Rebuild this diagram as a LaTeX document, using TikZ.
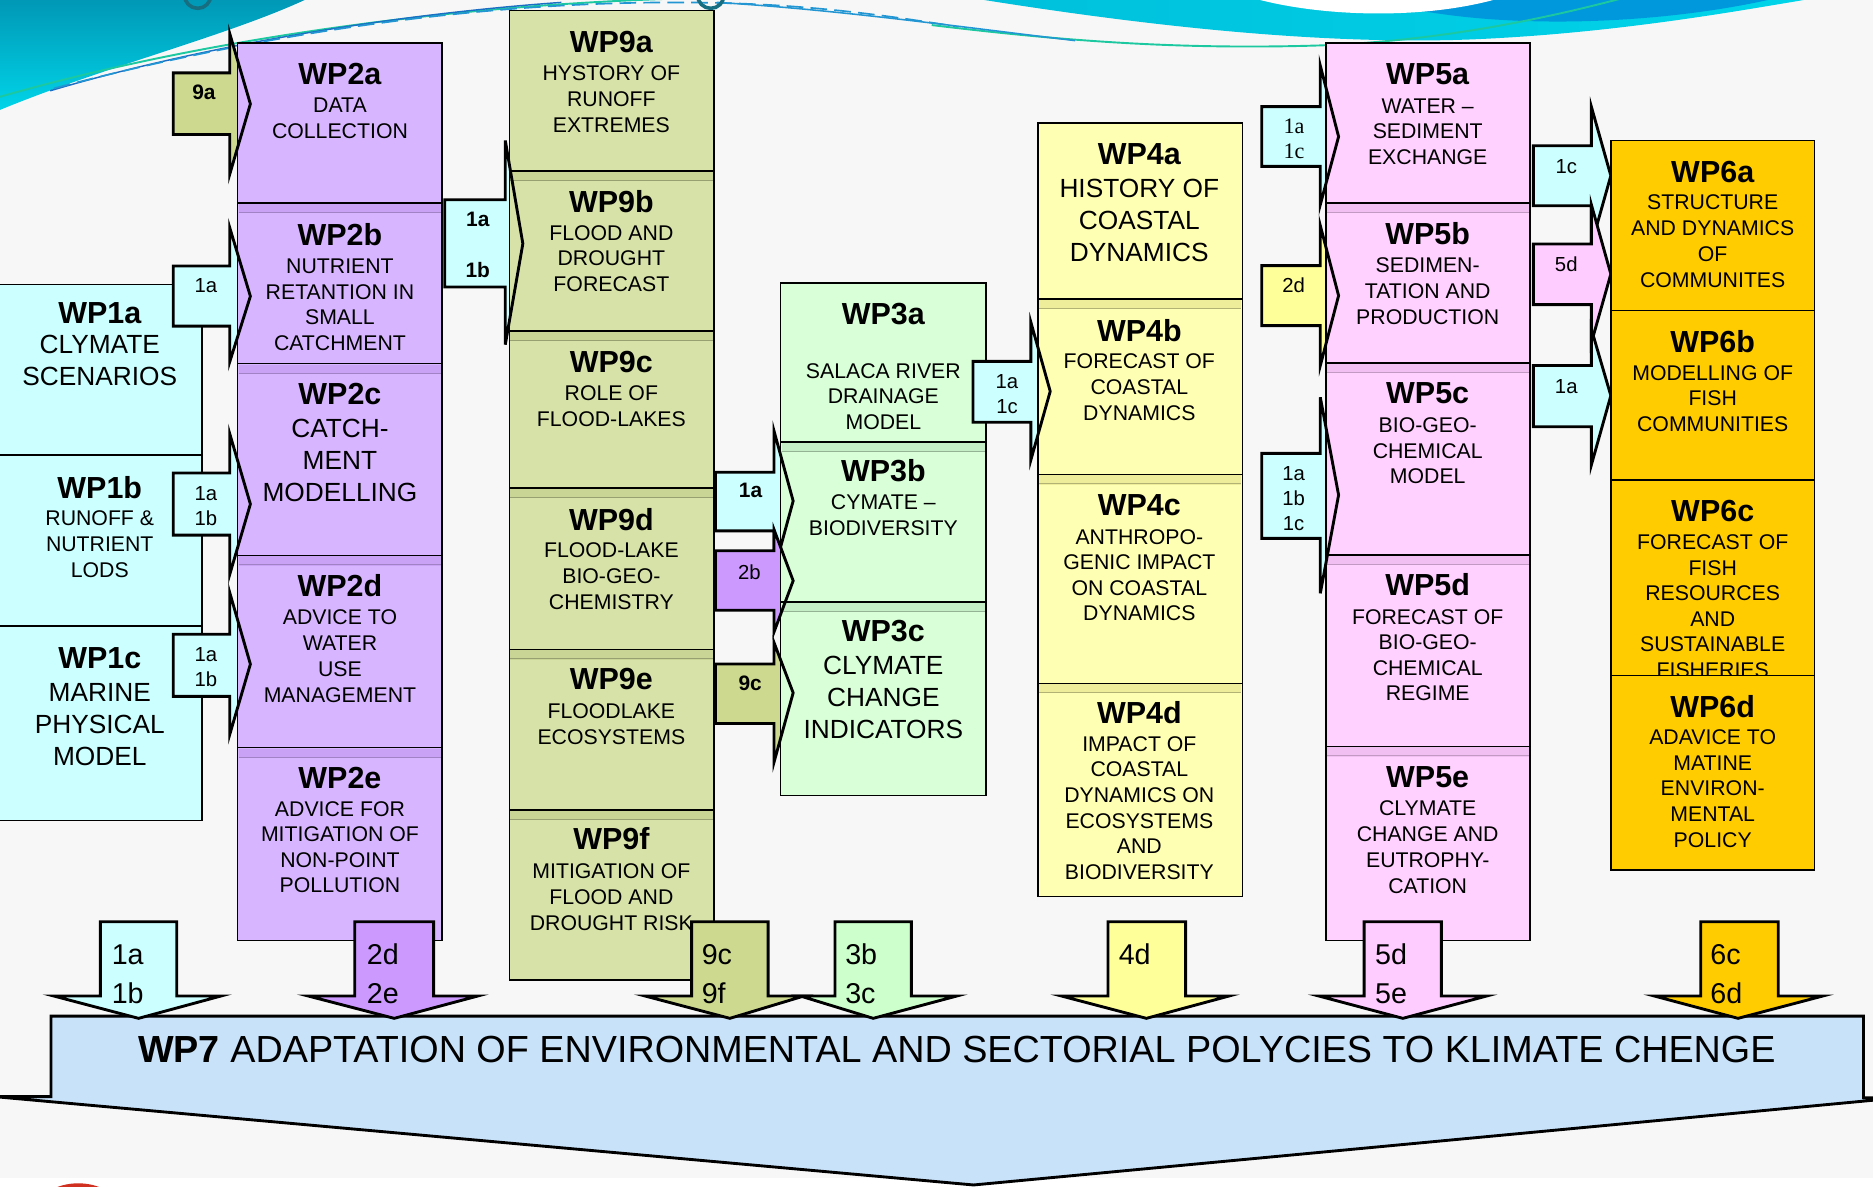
\documentclass[tikz,border=0pt]{standalone}
\usepackage{fontspec}
\setmainfont{Liberation Sans}
\newfontfamily\serifl{Liberation Serif}
\definecolor{bgc}{HTML}{F7F7F7}
\definecolor{cyanB}{HTML}{CCFFFF}
\definecolor{lavB}{HTML}{D8B6FF}
\definecolor{lavS}{HTML}{C9A2F5}
\definecolor{purA}{HTML}{CC99FF}
\definecolor{khB}{HTML}{D7E2A8}
\definecolor{khS}{HTML}{C9D595}
\definecolor{khA}{HTML}{CCD98F}
\definecolor{grB}{HTML}{D9FFD9}
\definecolor{grS}{HTML}{C6EEC6}
\definecolor{grA}{HTML}{CCFFCC}
\definecolor{yeB}{HTML}{FFFFB3}
\definecolor{yeS}{HTML}{EDED9A}
\definecolor{yeA}{HTML}{FFFF99}
\definecolor{piB}{HTML}{FFD1FF}
\definecolor{piS}{HTML}{F2BFF2}
\definecolor{piA}{HTML}{FFCCFF}
\definecolor{goB}{HTML}{FFCC00}
\definecolor{wpsev}{HTML}{C8E2FA}
\definecolor{tealD}{HTML}{0098B6}
\definecolor{tealL}{HTML}{00D4E8}
\definecolor{lineG}{HTML}{1CC8A0}
\definecolor{lineB}{HTML}{1A6FC4}
\definecolor{lineC}{HTML}{2196D3}
\definecolor{ringc}{HTML}{176E80}
\definecolor{waveC}{HTML}{00C0DC}
\definecolor{waveB}{HTML}{0098DC}
\definecolor{redc}{HTML}{D03020}
% box: name, x1, y1, x2, y2, fill
\newcommand\wpbox[6]{\node[wpb, fill=#6, minimum width={#4-(#2)}, minimum height={#5-(#3)}, anchor=north west] (#1) at (#2,#3) {};}
% strip: x1, y, x2, fill, line colour
\newcommand\wpstrip[5]{\fill[#4] ({#1+0.7},{#2+0.7}) rectangle ({#3-0.7},{#2+8.5});
  \draw[#5, line width=0.8pt] ({#1+0.7},{#2+7.8}) -- ({#3-0.7},{#2+7.8});}
% text: name, cx, title y, title, body style, first y, skip, lines
\newcommand\wptxt[8]{\node[ttl] (#1t) at (#2,#3) {#4};
  \foreach \wline [count=\i from 0] in {#8} {\node[#5] (#1l\i) at (#2,{#6+\i*#7}) {\wline};}}
% side arrow: fill, body left, body top, body bottom, head x, head top, head bottom, tip x, tip y
\newcommand\sarr[9]{\draw[sarrow, fill=#1] (#2,#3) -- (#5,#3) -- (#5,#6) -- (#8,#9) -- (#5,#7) -- (#5,#4) -- (#2,#4) -- cycle;}
\newcommand\shead[5]{\draw[sarrow] (#1,#2) -- (#4,#5) -- (#1,#3);}
% down arrow: fill, shaft left, shaft right, head left, head right, tip x
\newcommand\darr[6]{\draw[darrow, fill=#1] (#2,771.6) -- (#3,771.6) -- (#3,833.8) -- (#5,833.8) -- (#6,852.5) -- (#4,833.8) -- (#2,833.8) -- cycle;}
\begin{document}
\begin{tikzpicture}[x=1pt,y=-1pt,line join=miter,
  wpb/.style={draw=black, line width=1.2pt, inner sep=0pt, outer sep=0pt},
  ttl/.style={font=\fontsize{25.5}{30}\selectfont\bfseries, inner sep=0pt},
  bdy/.style={font=\fontsize{17.8}{21}\selectfont, inner sep=0pt},
  bdyL/.style={font=\fontsize{22}{26}\selectfont, inner sep=0pt},
  sarrow/.style={draw=black, line width=2.4pt},
  darrow/.style={draw=black, line width=2.4pt},
  slab/.style={font=\fontsize{17}{20}\selectfont, inner sep=0pt},
  slabB/.style={font=\fontsize{17.5}{20}\selectfont\bfseries, inner sep=0pt},
  slabS/.style={font=\serifl\fontsize{18.5}{20}\selectfont, inner sep=0pt},
  dlab/.style={font=\fontsize{24}{28}\selectfont, inner sep=0pt, anchor=base west}]
\useasboundingbox (0,0) rectangle (1568,993);
\clip (0,0) rectangle (1568,993);
% background
\fill[bgc] (0,0) rectangle (1568,993);
\fill[white] (0,986) rectangle (1568,993);
\fill[redc] (65.5,1041.6) circle (51);
% top decoration
\shade[top color=tealD, bottom color=tealL] (0,0) -- (255,0) .. controls (190,30) and (90,55) .. (0,92) -- cycle;
\shade[left color=waveC, right color=tealL] (824,0) .. controls (950,20) and (1100,38) .. (1232,33) .. controls (1350,28) and (1450,10) .. (1510,0) -- cycle;
\fill[waveB] (1150,0) .. controls (1240,26) and (1380,22) .. (1480,0) -- cycle;
\fill[white] (1055,0) .. controls (1110,14) and (1190,16) .. (1250,0) -- cycle;
\draw[lineG, line width=1.6pt] (0,81) .. controls (150,38) and (350,6) .. (560,-1);
\draw[lineB, line width=1.2pt] (42,76) .. controls (170,38) and (330,12) .. (470,2);
\draw[lineC, line width=1.4pt, dash pattern=on 14pt off 6pt] (45,74) .. controls (220,28) and (420,-4) .. (620,3) .. controls (700,6) and (760,16) .. (800,22);
\draw[lineG, line width=1.6pt] (780,21) .. controls (880,33) and (980,42) .. (1106,38) .. controls (1210,34) and (1300,14) .. (1360,-2);
\draw[lineC, line width=1.3pt] (600,2) .. controls (700,8) and (800,22) .. (900,34);
\draw[ringc, line width=3pt] (165.5,-4) circle (11);
\draw[ringc, line width=3pt] (595,-4) circle (11);
% ---- WP1 column
\wpbox{wp1a}{-5}{238}{169}{381}{cyanB}
\wptxt{wp1a}{83.5}{262}{WP1a}{bdyL}{288.5}{26.5}{CLYMATE,SCENARIOS}
\wpbox{wp1b}{-5}{381}{169}{524}{cyanB}
\wptxt{wp1b}{83.5}{408}{WP1b}{bdy}{433.6}{21.8}{RUNOFF \&,NUTRIENT,LODS}
\wpbox{wp1c}{-5}{524}{169}{687}{cyanB}
\wptxt{wp1c}{83.5}{550.7}{WP1c}{bdyL}{580}{26.5}{MARINE,PHYSICAL,MODEL}
% ---- arrows into WP2, WP9, WP3
\sarr{khA}{145}{61}{112.6}{192.3}{28}{146}{209.6}{87}
\node[slabB] (s9a) at (170.7,77.6) {9a};
\sarr{cyanB}{145}{222.7}{273}{192.3}{190.5}{303}{209.6}{248}
\node[slab] (s2b1) at (172.3,239.5) {1a};
\sarr{cyanB}{145}{396}{448}{192.3}{363}{481}{209.6}{422}
\node[slab] (s2c1) at (172.3,413) {1a};
\node[slab] (s2c2) at (172.3,434) {1b};
\sarr{cyanB}{145}{531}{583}{192.3}{496}{615}{209.6}{556}
\node[slab] (s2d1) at (172.3,548) {1a};
\node[slab] (s2d2) at (172.3,569) {1b};
\sarr{cyanB}{372.3}{167.2}{240.3}{423}{117.6}{288.5}{437.7}{204}
\node[slabB] (s9b1) at (400,183.5) {1a};
\node[slabB] (s9b2) at (400,226.3) {1b};
\sarr{cyanB}{599}{395.3}{444.4}{648}{360.9}{478}{664}{419.4}
\node[slabB] (s3b1) at (628.3,410.7) {1a};
\sarr{purA}{599}{461.1}{510.9}{648}{443.4}{529}{664}{486.2}
\node[slab] (s3b2) at (627.4,478.8) {2b};
\sarr{khA}{599}{555.9}{605.7}{648}{538}{638}{664}{580}
\node[slabB] (s3c1) at (628,572) {9c};
% ---- WP2 column
\wpbox{wp2a}{199}{36}{370}{170}{lavB}
\wptxt{wp2a}{284.6}{61.6}{WP2a}{bdy}{88}{21.8}{DATA,COLLECTION}
\wpbox{wp2b}{199}{170}{370}{304.5}{lavB}
\wpstrip{199}{170}{370}{lavS}{lavS!80!black}
\wptxt{wp2b}{284.6}{196}{WP2b}{bdy}{222.7}{21.5}{NUTRIENT,RETANTION IN,SMALL,CATCHMENT}
\wpbox{wp2c}{199}{304.5}{370}{465}{lavB}
\wpstrip{199}{304.5}{370}{lavS}{lavS!80!black}
\wptxt{wp2c}{284.6}{329.5}{WP2c}{bdyL}{358.8}{26.6}{CATCH-,MENT,MODELLING}
\wpbox{wp2d}{199}{465}{370}{626}{lavB}
\wpstrip{199}{465}{370}{lavS}{lavS!80!black}
\wptxt{wp2d}{284.6}{490.5}{WP2d}{bdy}{517}{21.7}{ADVICE TO,WATER,USE,MANAGEMENT}
\wpbox{wp2e}{199}{626}{370}{787.5}{lavB}
\wpstrip{199}{626}{370}{lavS}{lavS!80!black}
\wptxt{wp2e}{284.6}{651.5}{WP2e}{bdy}{677}{21.4}{ADVICE FOR,MITIGATION OF,NON-POINT,POLLUTION}
% ---- WP9 column
\wpbox{wp9a}{426.4}{9}{597.8}{143}{khB}
\wptxt{wp9a}{511.8}{35}{WP9a}{bdy}{61}{21.8}{HYSTORY OF,RUNOFF,EXTREMES}
\wpbox{wp9b}{426.4}{143}{597.8}{277}{khB}
\wpstrip{426.4}{143}{597.8}{khS}{khS!75!black}
\wptxt{wp9b}{511.8}{169}{WP9b}{bdy}{195}{21.5}{FLOOD AND,DROUGHT,FORECAST}
\wpbox{wp9c}{426.4}{277}{597.8}{408.7}{khB}
\wpstrip{426.4}{277}{597.8}{khS}{khS!75!black}
\wptxt{wp9c}{511.8}{303}{WP9c}{bdy}{329}{21.6}{ROLE OF,FLOOD-LAKES}
\wpbox{wp9d}{426.4}{408.7}{597.8}{543.7}{khB}
\wpstrip{426.4}{408.7}{597.8}{khS}{khS!75!black}
\wptxt{wp9d}{511.8}{434.8}{WP9d}{bdy}{460.5}{22}{FLOOD-LAKE,BIO-GEO-,CHEMISTRY}
\wpbox{wp9e}{426.4}{543.7}{597.8}{678}{khB}
\wpstrip{426.4}{543.7}{597.8}{khS}{khS!75!black}
\wptxt{wp9e}{511.8}{568.8}{WP9e}{bdy}{595}{22}{FLOODLAKE,ECOSYSTEMS}
\wpbox{wp9f}{426.4}{678}{597.8}{820.4}{khB}
\wpstrip{426.4}{678}{597.8}{khS}{khS!75!black}
\wptxt{wp9f}{511.8}{702}{WP9f}{bdy}{729.4}{21.7}{MITIGATION OF,FLOOD AND,DROUGHT RISK}
% ---- WP3 column
\wpbox{wp3a}{653.6}{237}{825.5}{370}{grB}
\wptxt{wp3a}{739.5}{262.6}{WP3a}{bdy}{310.6}{21.4}{SALACA RIVER,DRAINAGE,MODEL}
\wpbox{wp3b}{653.6}{370}{825.5}{504}{grB}
\wpstrip{653.6}{370}{825.5}{grS}{grS!75!black}
\wptxt{wp3b}{739.5}{393.6}{WP3b}{bdy}{420}{21.8}{CYMATE –,BIODIVERSITY}
\wpbox{wp3c}{653.6}{504}{825.5}{666}{grB}
\wpstrip{653.6}{504}{825.5}{grS}{grS!75!black}
\wptxt{wp3c}{739.5}{528.6}{WP3c}{bdyL}{556.9}{26.8}{CLYMATE,CHANGE,INDICATORS}
% ---- arrows into WP4, WP5, WP6
\sarr{cyanB}{814.6}{302.5}{353.5}{863}{269.8}{385}{879.2}{327.6}
\node[slab] (s4b1) at (843,319.8) {1a};
\node[slab] (s4b2) at (843,340.2) {1c};
\sarr{cyanB}{1056.3}{89.3}{139.3}{1105.3}{55}{171.3}{1120.6}{114.4}
\node[slabS] (s5a1) at (1083.3,106) {1a};
\node[slabS] (s5a2) at (1083.3,126.7) {1c};
\sarr{yeA}{1056.3}{222.4}{272.6}{1105.3}{188.9}{306}{1120.6}{247.5}
\node[slab] (s5b1) at (1083,239) {2d};
\sarr{cyanB}{1056.3}{379.5}{450.7}{1105.3}{332.6}{496.7}{1120.6}{414.4}
\node[slab] (s5c1) at (1083,396.3) {1a};
\node[slab] (s5c2) at (1083,417.2) {1b};
\node[slab] (s5c3) at (1083,438.7) {1c};
\sarr{cyanB}{1283.7}{122}{172.2}{1332.2}{89.3}{205}{1348.5}{147.1}
\node[slab] (s6a1) at (1311.2,139.3) {1c};
\sarr{piA}{1283.7}{204.3}{255}{1332.2}{171.3}{287}{1348.5}{229.4}
\node[slab] (s6a2) at (1311.2,221) {5d};
\sarr{cyanB}{1283.7}{306}{357.2}{1332.2}{275.4}{389.3}{1348.5}{331.2}
\node[slab] (s6b1) at (1311.2,323.4) {1a};
% ---- WP4 column
\wpbox{wp4a}{869}{103}{1040}{250.3}{yeB}
\wptxt{wp4a}{953.8}{129}{WP4a}{bdyL}{157.7}{26.8}{HISTORY OF,COASTAL,DYNAMICS}
\wpbox{wp4b}{869}{250.3}{1040}{397.3}{yeB}
\wpstrip{869}{250.3}{1040}{yeS}{yeS!75!black}
\wptxt{wp4b}{953.8}{276.8}{WP4b}{bdy}{302.5}{21.8}{FORECAST OF,COASTAL,DYNAMICS}
\wpbox{wp4c}{869}{397.3}{1040}{572}{yeB}
\wpstrip{869}{397.3}{1040}{yeS}{yeS!75!black}
\wptxt{wp4c}{953.8}{422.8}{WP4c}{bdy}{449.3}{21.4}{ANTHROPO-,GENIC IMPACT,ON COASTAL,DYNAMICS}
\wpbox{wp4d}{869}{572}{1040}{750.6}{yeB}
\wpstrip{869}{572}{1040}{yeS}{yeS!75!black}
\wptxt{wp4d}{953.8}{596.6}{WP4d}{bdy}{622.8}{21.5}{IMPACT OF,COASTAL,DYNAMICS ON,ECOSYSTEMS,AND,BIODIVERSITY}
% ---- WP5 column
\wpbox{wp5a}{1110}{36}{1281}{170}{piB}
\wptxt{wp5a}{1195.2}{62.5}{WP5a}{bdy}{88.5}{21.6}{WATER –,SEDIMENT,EXCHANGE}
\wpbox{wp5b}{1110}{170}{1281}{304}{piB}
\wpstrip{1110}{170}{1281}{piS}{piS!80!black}
\wptxt{wp5b}{1195.2}{195.9}{WP5b}{bdy}{222.4}{21.6}{SEDIMEN-,TATION AND,PRODUCTION}
\wpbox{wp5c}{1110}{304}{1281}{464.6}{piB}
\wpstrip{1110}{304}{1281}{piS}{piS!80!black}
\wptxt{wp5c}{1195.2}{329.3}{WP5c}{bdy}{356}{21.5}{BIO-GEO-,CHEMICAL,MODEL}
\wpbox{wp5d}{1110}{464.6}{1281}{625}{piB}
\wpstrip{1110}{464.6}{1281}{piS}{piS!80!black}
\wptxt{wp5d}{1195.2}{489.8}{WP5d}{bdy}{516.3}{21.4}{FORECAST OF,BIO-GEO-,CHEMICAL,REGIME}
\wpbox{wp5e}{1110}{625}{1281}{787.5}{piB}
\wpstrip{1110}{625}{1281}{piS}{piS!80!black}
\wptxt{wp5e}{1195.2}{650.2}{WP5e}{bdy}{676.7}{21.6}{CLYMATE,CHANGE AND,EUTROPHY-,CATION}
% ---- WP6 column
\wpbox{wp6a}{1348.5}{117.8}{1519}{260.1}{goB}
\wptxt{wp6a}{1433.8}{143.7}{WP6a}{bdy}{169.4}{21.7}{STRUCTURE,AND DYNAMICS,OF,COMMUNITES}
\wpbox{wp6b}{1348.5}{260.1}{1519}{401.9}{goB}
\wptxt{wp6b}{1433.8}{285.7}{WP6b}{bdy}{312.5}{21.2}{MODELLING OF,FISH,COMMUNITIES}
\wpbox{wp6c}{1348.5}{401.9}{1519}{565.4}{goB}
\wptxt{wp6c}{1433.8}{427.8}{WP6c}{bdy}{454.3}{21.3}{FORECAST OF,FISH,RESOURCES,AND,SUSTAINABLE,FISHERIES}
\wpbox{wp6d}{1348.5}{565.4}{1519}{728.3}{goB}
\wptxt{wp6d}{1433.8}{591.6}{WP6d}{bdy}{617.2}{21.5}{ADAVICE TO,MATINE,ENVIRON-,MENTAL,POLICY}
% ---- arrow head outlines over the boxes
\begin{scope}
\clip (199,36) rectangle (370,787.5);
\shead{192.3}{28}{146}{209.6}{87}
\shead{192.3}{190.5}{303}{209.6}{248}
\shead{192.3}{363}{481}{209.6}{422}
\shead{192.3}{496}{615}{209.6}{556}
\end{scope}
\begin{scope}
\clip (426.4,9) rectangle (597.8,820.4);
\shead{423}{117.6}{288.5}{437.7}{204}
\end{scope}
\begin{scope}
\clip (653.6,237) rectangle (825.5,666);
\shead{648}{360.9}{478}{664}{419.4}
\shead{648}{443.4}{529}{664}{486.2}
\shead{648}{538}{638}{664}{580}
\end{scope}
\begin{scope}
\clip (869,103) rectangle (1040,750.6);
\shead{863}{269.8}{385}{879.2}{327.6}
\end{scope}
\begin{scope}
\clip (1110,36) rectangle (1281,787.5);
\shead{1105.3}{55}{171.3}{1120.6}{114.4}
\shead{1105.3}{188.9}{306}{1120.6}{247.5}
\shead{1105.3}{332.6}{496.7}{1120.6}{414.4}
\end{scope}
% ---- WP7
\draw[darrow, fill=wpsev] (42.7,850.6) -- (1560,850.6) -- (1560,919) -- (1590,919) -- (815,992) -- (-5,918) -- (42.7,918) -- cycle;
\node[font=\fontsize{31.6}{36}\selectfont, inner sep=0pt] (wp7t) at (801,878.2) {\textbf{WP7} ADAPTATION OF ENVIRONMENTAL AND SECTORIAL POLYCIES TO KLIMATE CHENGE};
% ---- down arrows
\darr{cyanB}{84}{148}{45}{185}{116}
\node[dlab] (d1a) at (93.4,807.8) {1a};
\node[dlab] (d1b) at (93.4,840) {1b};
\darr{purA}{297}{363}{258}{400}{330}
\node[dlab] (d2a) at (307,807.8) {2d};
\node[dlab] (d2b) at (307,840) {2e};
\darr{khA}{579}{643}{540}{673}{611}
\node[dlab] (d9a) at (587.3,807.8) {9c};
\node[dlab] (d9b) at (587.3,840) {9f};
\darr{grA}{699}{763}{670}{801}{731}
\node[dlab] (d3a) at (707.4,807.8) {3b};
\node[dlab] (d3b) at (707.4,840) {3c};
\darr{yeA}{927.6}{992.5}{888.6}{1028.9}{959.7}
\node[dlab] (d4a) at (936.4,807.8) {4d};
\darr{piA}{1142}{1206.6}{1104}{1244.6}{1174.4}
\node[dlab] (d5a) at (1151,807.8) {5d};
\node[dlab] (d5b) at (1151,840) {5e};
\darr{goB}{1423.8}{1488.7}{1384.9}{1526}{1455}
\node[dlab] (d6a) at (1431.6,807.8) {6c};
\node[dlab] (d6b) at (1431.6,840) {6d};
\end{tikzpicture}
\end{document}
